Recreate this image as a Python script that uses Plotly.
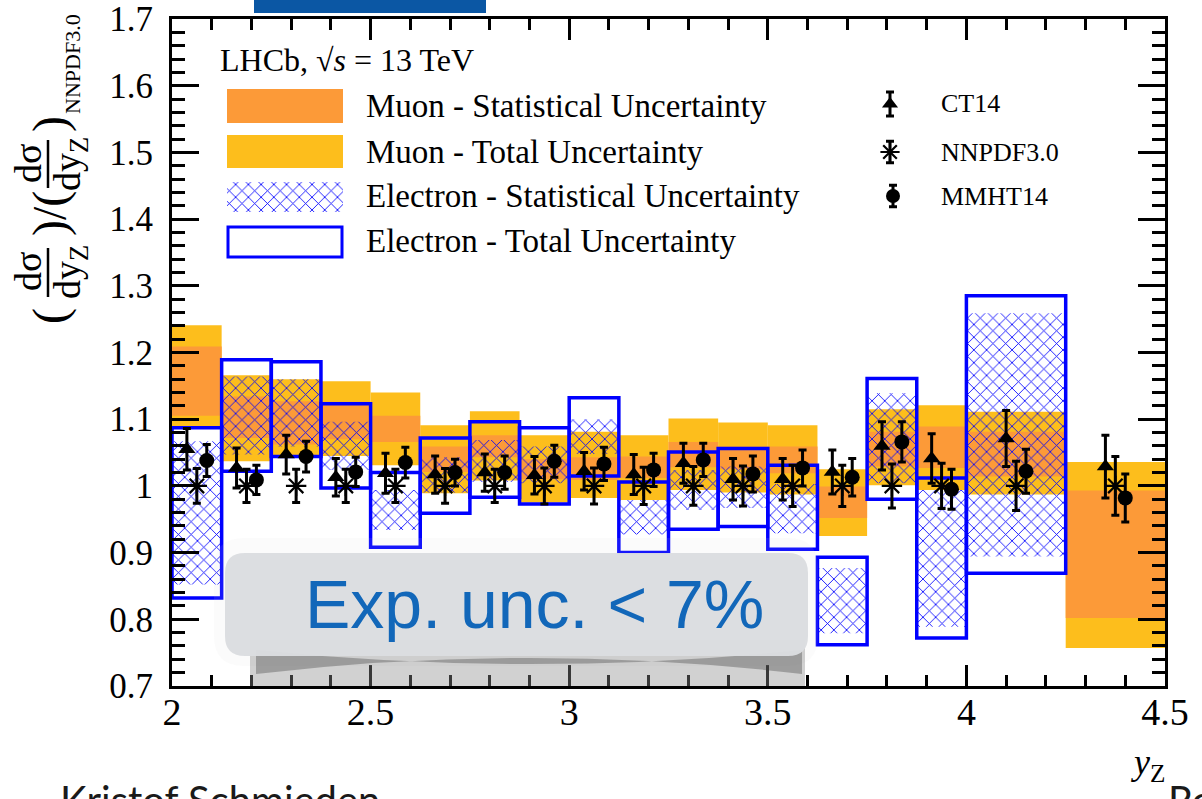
import plotly.graph_objects as go

# ---------------- data ----------------
bin_edges = [2.0, 2.125, 2.25, 2.375, 2.5, 2.625, 2.75, 2.875, 3.0, 3.125, 3.25,
             3.375, 3.5, 3.625, 3.75, 3.875, 4.0, 4.25, 4.5]

# Muon bands (ratio to NNPDF3.0), 18 bins
mu_tot_lo = [1.089, 1.037, 1.045, 1.045, 1.031, 0.989, 1.008, 0.975, 0.982, 0.979,
             0.994, 0.990, 0.987, 0.925, 1.001, 0.994, 0.987, 0.757]
mu_tot_hi = [1.241, 1.166, 1.160, 1.157, 1.140, 1.091, 1.112, 1.076, 1.081, 1.076,
             1.101, 1.095, 1.091, 1.025, 1.115, 1.121, 1.111, 1.036]
mu_stat_lo = [1.105, 1.072, 1.062, 1.070, 1.066, 1.021, 1.043, 1.010, 1.009, 1.012,
              1.028, 1.025, 1.019, 0.952, 1.029, 1.027, 1.014, 0.802]
mu_stat_hi = [1.209, 1.134, 1.127, 1.126, 1.105, 1.059, 1.076, 1.040, 1.043, 1.044,
              1.066, 1.059, 1.059, 0.999, 1.081, 1.089, 1.081, 0.993]

# Electron bands, 17 bins (2.0 - 4.25)
e_tot_lo = [0.832, 1.022, 1.044, 0.997, 0.908, 0.959, 0.983, 0.973, 1.015, 0.900,
            0.935, 0.939, 0.905, 0.762, 0.980, 0.772, 0.869]
e_tot_hi = [1.087, 1.189, 1.186, 1.123, 1.020, 1.072, 1.096, 1.087, 1.132, 1.006,
            1.051, 1.056, 1.031, 0.893, 1.161, 1.012, 1.285]
e_stat_lo = [0.852, 1.047, 1.059, 1.024, 0.934, 0.990, 1.006, 1.004, 1.048, 0.927,
             0.964, 0.967, 0.929, 0.779, 1.004, 0.789, 0.894]
e_stat_hi = [1.067, 1.164, 1.160, 1.096, 0.994, 1.043, 1.069, 1.059, 1.100, 0.979,
             1.024, 1.029, 1.003, 0.877, 1.139, 0.994, 1.259]

# Theory predictions (ratio to NNPDF3.0)
ct14 = [1.055, 1.027, 1.047, 1.013, 1.019, 1.017, 1.020, 1.016, 1.022, 1.017,
        1.034, 1.010, 1.010, 1.021, 1.060, 1.041, 1.071, 1.029]
ct14_err = [0.031, 0.030, 0.029, 0.028, 0.030, 0.028, 0.028, 0.028, 0.028, 0.030,
            0.030, 0.031, 0.031, 0.033, 0.036, 0.037, 0.042, 0.047]
nnpdf = [1.0, 1.0, 1.0, 1.0, 1.0, 1.0, 1.0, 1.0, 1.0, 1.0,
         1.0, 1.0, 1.0, 1.0, 1.0, 1.0, 1.0, 1.0]
nnpdf_err = [0.026, 0.025, 0.025, 0.025, 0.025, 0.026, 0.025, 0.027, 0.027, 0.028,
             0.029, 0.030, 0.031, 0.031, 0.033, 0.034, 0.037, 0.044]
mmht = [1.038, 1.009, 1.044, 1.021, 1.035, 1.020, 1.020, 1.037, 1.033, 1.024,
        1.039, 1.018, 1.027, 1.013, 1.066, 0.995, 1.022, 0.982]
mmht_err = [0.024, 0.022, 0.023, 0.022, 0.023, 0.020, 0.025, 0.024, 0.025, 0.025,
            0.025, 0.027, 0.027, 0.028, 0.030, 0.030, 0.033, 0.036]

x_tickvals = [2, 2.5, 3, 3.5, 4, 4.5]
x_ticktext = ["2", "2.5", "3", "3.5", "4", "4.5"]
y_tickvals = [0.7, 0.8, 0.9, 1.0, 1.1, 1.2, 1.3, 1.4, 1.5, 1.6, 1.7]
y_ticktext = ["0.7", "0.8", "0.9", "1", "1.1", "1.2", "1.3", "1.4", "1.5", "1.6", "1.7"]

legend_labels = ["Muon - Statistical Uncertainty", "Muon - Total Uncertainty",
                 "Electron - Statistical Uncertainty", "Electron - Total Uncertainty"]
model_labels = ["CT14", "NNPDF3.0", "MMHT14"]

# ---------------- style ----------------
W, H = 1202, 799
PL, PR, PT, PB = 172, 1165, 19, 686
XMIN, XMAX, YMIN, YMAX = 2.0, 4.5, 0.7, 1.7
ORANGE = "#FC9A38"
YELLOW = "#FDBE1C"
BLUE = "#0000FF"
SERIF = "Liberation Serif"
SANS = "Liberation Sans"


def pxx(x):  # pixel -> paper x
    return (x - PL) / (PR - PL)


def pxy(y):  # pixel -> paper y
    return (PB - y) / (PB - PT)


def dx(x):  # pixel -> data x (legend swatches only)
    return XMIN + (x - PL) / (PR - PL) * (XMAX - XMIN)


def dy(y):
    return YMIN + (PB - y) / (PB - PT) * (YMAX - YMIN)


centers = [(bin_edges[i] + bin_edges[i + 1]) / 2 for i in range(len(bin_edges) - 1)]
widths = [bin_edges[i + 1] - bin_edges[i] for i in range(len(bin_edges) - 1)]
ne = len(e_tot_lo)

fig = go.Figure()

# muon total (yellow)
fig.add_trace(go.Bar(x=centers, base=mu_tot_lo,
                     y=[h - l for h, l in zip(mu_tot_hi, mu_tot_lo)], width=widths,
                     marker=dict(color=YELLOW, line=dict(width=0))))
# muon stat (orange)
fig.add_trace(go.Bar(x=centers, base=mu_stat_lo,
                     y=[h - l for h, l in zip(mu_stat_hi, mu_stat_lo)], width=widths,
                     marker=dict(color=ORANGE, line=dict(width=0))))
# electron stat (hatched)
hatch = dict(shape="x", fgcolor=BLUE, fgopacity=1, bgcolor="rgba(0,0,0,0)", size=9,
             solidity=0.18, fillmode="overlay")
fig.add_trace(go.Bar(x=centers[:ne], base=e_stat_lo,
                     y=[h - l for h, l in zip(e_stat_hi, e_stat_lo)], width=widths[:ne],
                     marker=dict(color="rgba(0,0,0,0)", pattern=hatch, line=dict(width=0))))
# electron total (blue box)
fig.add_trace(go.Bar(x=centers[:ne], base=e_tot_lo,
                     y=[h - l for h, l in zip(e_tot_hi, e_tot_lo)], width=widths[:ne],
                     marker=dict(color="rgba(0,0,0,0)", line=dict(color=BLUE, width=3.5))))

# theory points
OFF = 0.025
eb = dict(type="data", color="black", thickness=3, width=4)
fig.add_trace(go.Scatter(x=[c - OFF for c in centers], y=ct14, mode="markers",
                         marker=dict(symbol="triangle-up", size=15, color="black"),
                         error_y=dict(eb, array=ct14_err)))
fig.add_trace(go.Scatter(x=centers, y=nnpdf, mode="markers",
                         marker=dict(symbol="asterisk-open", size=17, color="black",
                                     line=dict(color="black", width=2.2)),
                         error_y=dict(eb, array=nnpdf_err)))
fig.add_trace(go.Scatter(x=[c + OFF for c in centers], y=mmht, mode="markers",
                         marker=dict(symbol="circle", size=15, color="black"),
                         error_y=dict(eb, array=mmht_err)))

# ---------------- legend (drawn) ----------------
shapes = []
annotations = []

fig.add_trace(go.Bar(x=[(dx(227) + dx(343)) / 2], base=[dy(212)], y=[dy(182) - dy(212)],
                     width=[dx(343) - dx(227)],
                     marker=dict(color="rgba(0,0,0,0)", pattern=hatch, line=dict(width=0))))
shapes.append(dict(type="rect", xref="paper", yref="paper", x0=pxx(227), x1=pxx(343),
                   y0=pxy(123), y1=pxy(89), fillcolor=ORANGE, line=dict(width=0)))
shapes.append(dict(type="rect", xref="paper", yref="paper", x0=pxx(227), x1=pxx(343),
                   y0=pxy(168), y1=pxy(135), fillcolor=YELLOW, line=dict(width=0)))
shapes.append(dict(type="rect", xref="paper", yref="paper", x0=pxx(228), x1=pxx(342),
                   y0=pxy(257), y1=pxy(227), fillcolor="rgba(0,0,0,0)",
                   line=dict(color=BLUE, width=3)))
for lab, yy in zip(legend_labels, [106, 152, 196, 241]):
    annotations.append(dict(text=lab, xref="paper", yref="paper", x=pxx(364), y=pxy(yy),
                            xanchor="left", yanchor="middle", showarrow=False,
                            font=dict(family=SERIF, size=33, color="black")))
annotations.append(dict(text="LHCb, √<i>s</i> = 13 TeV", xref="paper", yref="paper",
                        x=pxx(218), y=pxy(60), xanchor="left", yanchor="middle",
                        showarrow=False, font=dict(family=SERIF, size=32, color="black")))

fig.add_trace(go.Scatter(x=[dx(890)], y=[dy(104)], mode="markers",
                         marker=dict(symbol="triangle-up", size=14, color="black"),
                         error_y=dict(eb, array=[0.018])))
fig.add_trace(go.Scatter(x=[dx(890)], y=[dy(152)], mode="markers",
                         marker=dict(symbol="asterisk-open", size=16, color="black",
                                     line=dict(color="black", width=2.2)),
                         error_y=dict(eb, array=[0.016])))
fig.add_trace(go.Scatter(x=[dx(893)], y=[dy(196)], mode="markers",
                         marker=dict(symbol="circle", size=14, color="black"),
                         error_y=dict(eb, array=[0.016])))
for lab, yy in zip(model_labels, [104, 152, 196]):
    annotations.append(dict(text=lab, xref="paper", yref="paper", x=pxx(939), y=pxy(yy),
                            xanchor="left", yanchor="middle", showarrow=False,
                            font=dict(family=SERIF, size=26, color="black")))

# ---------------- y-axis title (stacked fractions, rotated) ----------------
def rot(text, x, y, size):
    annotations.append(dict(text=text, xref="paper", yref="paper", x=pxx(x), y=pxy(y),
                            xanchor="center", yanchor="middle", showarrow=False,
                            textangle=-90, font=dict(family=SERIF, size=size, color="black")))


rot("(", 50, 316, 48)
rot("dσ", 28, 272, 38)
rot("dy<sub>Z</sub>", 70, 272, 38)
shapes.append(dict(type="line", xref="paper", yref="paper", x0=pxx(48), x1=pxx(48),
                   y0=pxy(297), y1=pxy(248), line=dict(color="black", width=2.5)))
rot(")/(", 50, 214, 48)
rot("dσ", 28, 164, 38)
rot("dy<sub>Z</sub>", 70, 164, 38)
shapes.append(dict(type="line", xref="paper", yref="paper", x0=pxx(48), x1=pxx(48),
                   y0=pxy(188), y1=pxy(140), line=dict(color="black", width=2.5)))
rot(")", 50, 124, 48)
rot("NNPDF3.0", 72, 64, 22)

# x-axis title
annotations.append(dict(text="<i>y</i><sub>Z</sub>", xref="paper", yref="paper",
                        x=pxx(1167), y=pxy(764), xanchor="right", yanchor="middle",
                        showarrow=False, font=dict(family=SERIF, size=36, color="black")))

# ---------------- slide decorations ----------------
shapes.append(dict(type="rect", xref="paper", yref="paper", x0=pxx(254), x1=pxx(486),
                   y0=pxy(13), y1=pxy(-5), fillcolor="#0B57A4", line=dict(width=0)))


def rrect(x0, y0, x1, y1, r):
    pts = [
        f"M {pxx(x0 + r)},{pxy(y0)}",
        f"L {pxx(x1 - r)},{pxy(y0)}",
        f"Q {pxx(x1)},{pxy(y0)} {pxx(x1)},{pxy(y0 + r)}",
        f"L {pxx(x1)},{pxy(y1 - r)}",
        f"Q {pxx(x1)},{pxy(y1)} {pxx(x1 - r)},{pxy(y1)}",
        f"L {pxx(x0 + r)},{pxy(y1)}",
        f"Q {pxx(x0)},{pxy(y1)} {pxx(x0)},{pxy(y1 - r)}",
        f"L {pxx(x0)},{pxy(y0 + r)}",
        f"Q {pxx(x0)},{pxy(y0)} {pxx(x0 + r)},{pxy(y0)} Z",
    ]
    return " ".join(pts)


shapes.append(dict(type="path", xref="paper", yref="paper", path=rrect(214, 538, 818, 666, 30),
                   fillcolor="rgba(215,215,218,0.10)", line=dict(width=0), layer="above"))
shapes.append(dict(type="rect", xref="paper", yref="paper", x0=pxx(250), x1=pxx(805),
                   y0=pxy(686), y1=pxy(640), fillcolor="rgba(140,140,140,0.40)",
                   line=dict(width=0), layer="above"))
shapes.append(dict(type="path", xref="paper", yref="paper",
                   path=(f"M {pxx(256)},{pxy(650)} Q {pxx(530)},{pxy(678)} {pxx(802)},{pxy(650)} "
                         f"L {pxx(802)},{pxy(674)} Q {pxx(530)},{pxy(642)} {pxx(256)},{pxy(674)} Z"),
                   fillcolor="rgba(60,60,60,0.35)", line=dict(width=0), layer="above"))
shapes.append(dict(type="path", xref="paper", yref="paper", path=rrect(225, 553, 808, 656, 20),
                   fillcolor="rgba(219,221,224,0.97)", line=dict(width=0), layer="above"))
annotations.append(dict(text="Exp. unc. < 7%", xref="paper", yref="paper",
                        x=pxx(534), y=pxy(604), xanchor="center", yanchor="middle",
                        showarrow=False, font=dict(family=SANS, size=68, color="#1267B9")))

annotations.append(dict(text="Kristof Schmieden", xref="paper", yref="paper",
                        x=pxx(58), y=pxy(774), xanchor="left", yanchor="top",
                        showarrow=False, font=dict(family="Lato", size=40, color="#1a1a1a")))
annotations.append(dict(text="Ro", xref="paper", yref="paper",
                        x=pxx(1166), y=pxy(774), xanchor="left", yanchor="top",
                        showarrow=False, font=dict(family="Lato", size=40, color="#1a1a1a")))

axis_common = dict(ticks="inside", tickwidth=3, tickcolor="black", showline=True,
                   linewidth=3, linecolor="black", mirror="ticks", showgrid=False,
                   zeroline=False, ticklabeloverflow="allow", automargin=False)

fig.update_layout(
    width=W, height=H, autosize=False,
    margin=dict(l=PL, r=W - PR, t=PT, b=H - PB, pad=0, autoexpand=False),
    paper_bgcolor="white", plot_bgcolor="white",
    font=dict(family=SERIF, color="black"),
    showlegend=False, barmode="overlay",
    xaxis=dict(axis_common, range=[XMIN, XMAX], tickmode="array", tickvals=x_tickvals,
               ticktext=x_ticktext, ticklen=21, ticklabelstandoff=-10,
               tickfont=dict(family=SERIF, size=38, color="black"),
               minor=dict(tickmode="linear", tick0=2.0, dtick=0.1, ticklen=11,
                          tickwidth=3, tickcolor="black", ticks="inside", showgrid=False)),
    yaxis=dict(axis_common, range=[YMIN, YMAX], tickmode="array", tickvals=y_tickvals,
               ticktext=y_ticktext, ticklen=27, ticklabelstandoff=9,
               tickfont=dict(family=SERIF, size=35, color="black"),
               minor=dict(tickmode="linear", tick0=0.7, dtick=0.02, ticklen=13,
                          tickwidth=3, tickcolor="black", ticks="inside", showgrid=False)),
    shapes=shapes,
    annotations=annotations,
)

fig.write_html("out.html")
